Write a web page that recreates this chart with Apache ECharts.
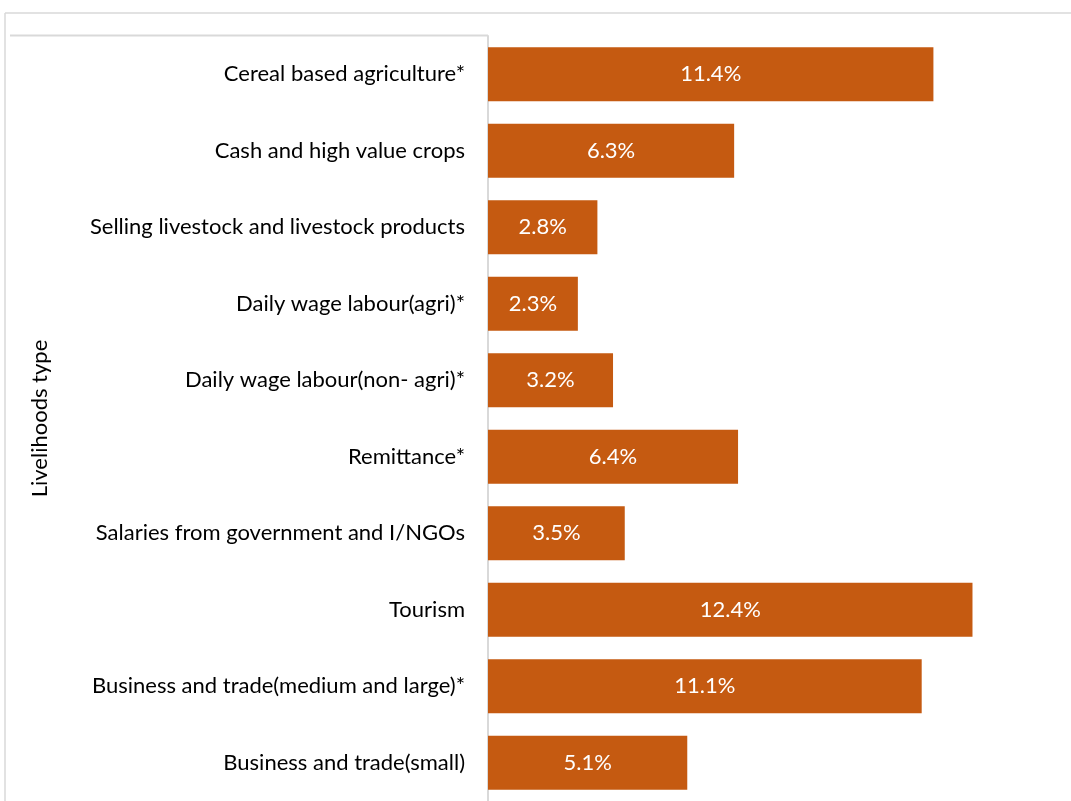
<!DOCTYPE html>
<html>
<head>
<meta charset="utf-8">
<script src="https://cdn.jsdelivr.net/npm/echarts@6/dist/echarts.min.js"></script>
<style>
  html, body { margin: 0; padding: 0; background: #fff; }
  #chart { width: 1071px; height: 801px; }
</style>
</head>
<body>
<div id="chart"></div>
<script>
// Livelihood types, listed top to bottom
const categories = [
  'Cereal based agriculture*',
  'Cash and high value crops',
  'Selling livestock and livestock products',
  'Daily wage labour(agri)*',
  'Daily wage labour(non- agri)*',
  'Remittance*',
  'Salaries from government and I/NGOs',
  'Tourism',
  'Business and trade(medium and large)*',
  'Business and trade(small)'
];
// Share of households (%)
const shares = [11.4, 6.3, 2.8, 2.3, 3.2, 6.4, 3.5, 12.4, 11.1, 5.1];
const axisTitle = 'Livelihoods type';

const font = 'Lato, Open Sans, sans-serif';
const chart = echarts.init(document.getElementById('chart'));
chart.setOption({
  animation: false,
  backgroundColor: '#fff',
  grid: { left: 488, right: 36, top: 36, bottom: 0, containLabel: false },
  xAxis: {
    type: 'value', min: 0, max: 14, show: false
  },
  yAxis: {
    type: 'category',
    data: categories,
    inverse: true,
    name: axisTitle,
    nameLocation: 'middle',
    nameGap: 437,
    nameRotate: 90,
    nameTextStyle: { fontFamily: font, fontSize: 22, color: '#000' },
    axisLine: { show: true, lineStyle: { color: '#d9d9d9', width: 2 } },
    axisTick: { show: false },
    axisLabel: { fontFamily: font, fontSize: 22, color: '#000', margin: 23 },
    splitLine: { show: false }
  },
  series: [{
    type: 'bar',
    data: shares,
    barWidth: '70.5%',
    itemStyle: { color: '#C55A11' },
    label: {
      show: true,
      position: 'inside',
      color: '#fff',
      fontFamily: font,
      fontSize: 22,
      formatter: p => p.value.toFixed(1) + '%'
    }
  }],
  graphic: [
    { type: 'line', shape: { x1: 5, y1: 13, x2: 1071, y2: 13 }, style: { stroke: '#d9d9d9', lineWidth: 1.5 } },
    { type: 'line', shape: { x1: 5, y1: 13, x2: 5, y2: 801 }, style: { stroke: '#d9d9d9', lineWidth: 1.5 } },
    { type: 'line', shape: { x1: 10, y1: 35.5, x2: 488, y2: 35.5 }, style: { stroke: '#d9d9d9', lineWidth: 2 } }
  ]
});
</script>
</body>
</html>
